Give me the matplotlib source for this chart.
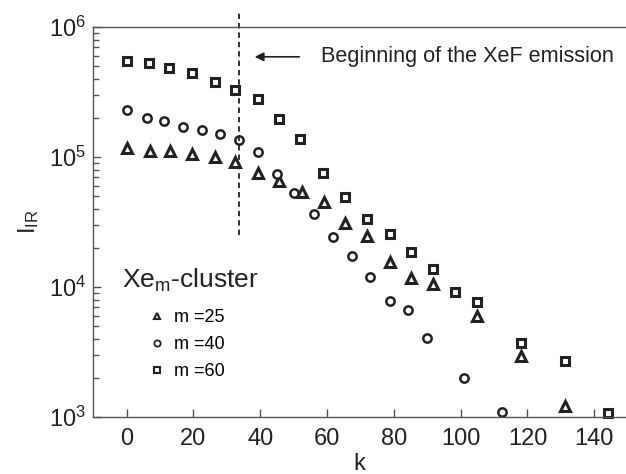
import numpy as np
import matplotlib
matplotlib.use('Agg')
import matplotlib.pyplot as plt
from matplotlib.lines import Line2D

plt.rcParams['font.family'] = ['Liberation Sans', 'DejaVu Sans']
plt.rcParams['mathtext.default'] = 'regular'

# m = 25 (triângulos)
k_25 = [0, 7, 13, 19.6, 26.3, 32.5, 39.4, 45.7, 52.5, 59, 65.5, 72, 78.7, 85.2, 91.7, 104.8, 118, 131.1]
I_25 = [1.17e5, 1.12e5, 1.12e5, 1.05e5, 1.0e5, 9.2e4, 7.6e4, 6.5e4, 5.4e4, 4.5e4, 3.1e4,
        2.47e4, 1.57e4, 1.17e4, 1.05e4, 6.0e3, 2.94e3, 1.22e3]

# m = 40 (círculos)
k_40 = [0, 6.1, 11.3, 16.8, 22.5, 28, 33.7, 39.2, 44.9, 50.2, 56.1, 61.7, 67.4, 73, 78.7,
        84.2, 89.9, 101.1, 112.4]
I_40 = [2.3e5, 1.99e5, 1.9e5, 1.71e5, 1.61e5, 1.5e5, 1.35e5, 1.09e5, 7.4e4, 5.26e4, 3.67e4,
        2.44e4, 1.73e4, 1.19e4, 7.85e3, 6.65e3, 4.09e3, 1.99e3, 1.09e3]

# m = 60 (quadrados)
k_60 = [0, 6.8, 12.8, 19.6, 26.3, 32.5, 39.2, 45.7, 52, 58.9, 65.5, 72, 78.7, 85.2, 91.7,
        98.3, 104.8, 118, 131.1, 144.1]
I_60 = [5.5e5, 5.26e5, 4.81e5, 4.45e5, 3.79e5, 3.27e5, 2.78e5, 1.95e5, 1.37e5, 7.6e4, 4.97e4,
        3.35e4, 2.54e4, 1.86e4, 1.37e4, 9.2e3, 7.7e3, 3.69e3, 2.68e3, 1.08e3]

k_emission = 33.5
cor = '#222222'

fig = plt.figure(figsize=(6.26, 4.74), dpi=100)
ax = fig.add_axes([0.149, 0.120, 0.851, 0.823])

ax.plot(k_25, I_25, '^', ms=6.5, mfc='white', mec=cor, mew=2.2, ls='none', clip_on=False)
ax.plot(k_40, I_40, 'o', ms=6, mfc='white', mec=cor, mew=1.8, ls='none', clip_on=False)
ax.plot(k_60, I_60, 's', ms=5.5, mfc='white', mec=cor, mew=2.2, ls='none', clip_on=False)

ax.set_yscale('log')
ax.set_xlim(-10, 149.5)
ax.set_ylim(1e3, 1e6)

# linha vertical tracejada (início da emissão XeF)
ax.plot([k_emission, k_emission], [2.5e4, 1.35e6], ls=(0, (3, 2.2)), color=cor, lw=1.3,
        clip_on=False)

# seta e texto
ax.annotate('', xy=(37.5, 5.9e5), xytext=(52.5, 5.9e5),
            arrowprops=dict(arrowstyle='-|>', color=cor, lw=1.2, mutation_scale=13))
ax.text(58.3, 5.9e5, 'Beginning of the XeF emission', fontsize=15.6, va='center', ha='left',
        color=cor)

# legenda (marcadores menores que os do gráfico)
handles = [
    Line2D([], [], marker='^', ms=5, mfc='white', mec=cor, mew=1.5, ls='none'),
    Line2D([], [], marker='o', ms=4.5, mfc='white', mec=cor, mew=1.3, ls='none'),
    Line2D([], [], marker='s', ms=4.3, mfc='white', mec=cor, mew=1.5, ls='none'),
]
ax.text(-1.5, 1.13e4, r'Xe$_{m}$-cluster', fontsize=19, va='center', ha='left', color=cor)
ax.legend(handles, ['m =25', 'm =40', 'm =60'], loc='upper left',
          bbox_to_anchor=(0.09, 0.30), frameon=False, fontsize=13, handlelength=0.8,
          handletextpad=0.5, labelspacing=0.55, borderpad=0)

# eixos
for s in ['left', 'bottom', 'top']:
    ax.spines[s].set_color('#555555')
    ax.spines[s].set_linewidth(1.0)
ax.spines['right'].set_visible(False)

ax.set_xticks([0, 20, 40, 60, 80, 100, 120, 140])
ax.tick_params(axis='both', which='major', direction='in', length=6, width=1,
               colors='#555555', labelcolor=cor, labelsize=17)
ax.tick_params(axis='y', which='minor', direction='in', length=4, width=1, colors='#555555')
ax.tick_params(axis='x', pad=8)
ax.tick_params(axis='y', pad=5)
ax.tick_params(top=False, right=False, which='both')

ax.set_xlabel('k', fontsize=17, color=cor, labelpad=2)
ax.set_ylabel(r'I$_{IR}$', fontsize=17, color=cor, labelpad=6)

fig.savefig('out.png', dpi=100)
